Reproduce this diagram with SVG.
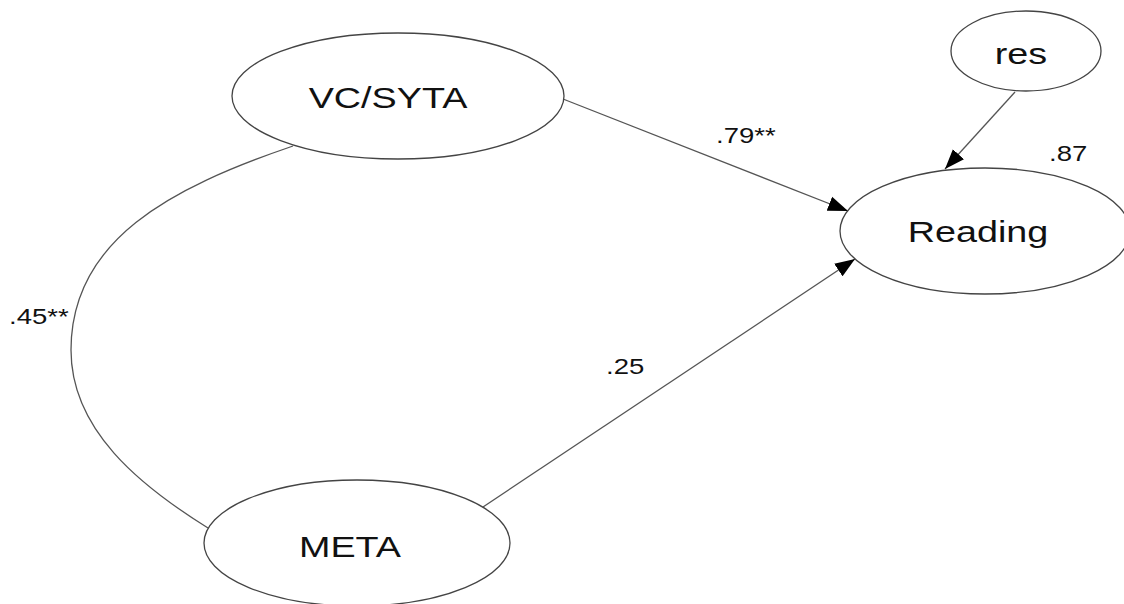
<svg xmlns="http://www.w3.org/2000/svg" width="1124" height="604" viewBox="0 0 1124 604">
<style>
.node ellipse{fill:#fff;stroke:#444;stroke-width:1.3}
.node text{font-family:"Liberation Sans",Arial,sans-serif;font-size:29.5px;fill:#111;text-anchor:middle}
.lbl{font-family:"Liberation Sans",Arial,sans-serif;font-size:21.5px;fill:#111}
.conn{fill:none;stroke:#555;stroke-width:1.3}
</style>
<defs>
<marker id="arr" markerUnits="userSpaceOnUse" markerWidth="21" markerHeight="16" refX="20" refY="8" orient="auto">
<path d="M0,0.5 L20,8 L0,15.5 z" fill="#000"/>
</marker>
</defs>
<rect width="1124" height="604" fill="#fff"/>
<g id="connectors">
<path class="conn" d="M293,146 C170,188 71,240 71,350 C71,430 140,485.6 208,528"/>
<line class="conn" x1="563" y1="99" x2="848" y2="211" marker-end="url(#arr)"/>
<line class="conn" x1="483" y1="507" x2="855" y2="259" marker-end="url(#arr)"/>
<line class="conn" x1="1015" y1="92" x2="945" y2="169" marker-end="url(#arr)"/>
</g>
<g id="node-vcsyta" class="node">
<ellipse cx="398" cy="96" rx="166" ry="63"/>
<text transform="translate(388,108) scale(1.28,1)">VC/SYTA</text>
</g>
<g id="node-meta" class="node">
<ellipse cx="357" cy="543" rx="153" ry="63"/>
<text transform="translate(350,557) scale(1.28,1)">META</text>
</g>
<g id="node-reading" class="node">
<ellipse cx="985" cy="231" rx="145" ry="63"/>
<text transform="translate(978,242) scale(1.28,1)">Reading</text>
</g>
<g id="node-res" class="node">
<ellipse cx="1026" cy="51" rx="75" ry="40"/>
<text transform="translate(1021,64) scale(1.28,1)">res</text>
</g>
<g id="labels">
<text class="lbl" transform="translate(716,143) scale(1.28,1)">.79**</text>
<text class="lbl" transform="translate(1049,161) scale(1.28,1)">.87</text>
<text class="lbl" transform="translate(606,374) scale(1.28,1)">.25</text>
<text class="lbl" transform="translate(9,324) scale(1.28,1)">.45**</text>
</g>
</svg>
